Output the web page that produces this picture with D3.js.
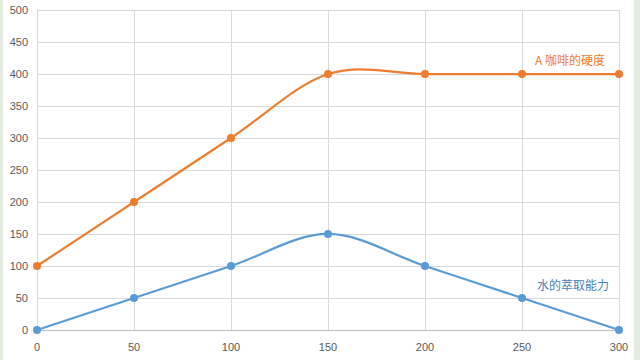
<!DOCTYPE html>
<html><head><meta charset="utf-8">
<script src="https://cdn.jsdelivr.net/npm/d3@7"></script>
<style>body{margin:0;background:#fff;}svg{display:block;}</style>
</head><body>
<svg id="c" width="640" height="360"></svg>
<script>
const xValues = [0, 50, 100, 150, 200, 250, 300];
const coffeeHardness = [100, 200, 300, 400, 400, 400, 400];
const waterExtraction = [0, 50, 100, 150, 100, 50, 0];
const yTicks = [0, 50, 100, 150, 200, 250, 300, 350, 400, 450, 500];
const seriesNames = ["A 咖啡的硬度", "水的萃取能力"];

const svg = d3.select("#c");
svg.append("rect").attr("x",0).attr("y",0).attr("width",640).attr("height",360).attr("fill","#fff");
svg.append("rect").attr("x",0).attr("y",0).attr("width",3).attr("height",360).attr("fill","#e3eddf");
svg.append("rect").attr("x",634).attr("y",0).attr("width",6).attr("height",360).attr("fill","#e3eddf");

const x = d3.scaleLinear().domain([0,300]).range([37,619]);
const y = d3.scaleLinear().domain([0,500]).range([330,10]);
const font = "'Liberation Sans', Arial, sans-serif";

// horizontal grid
svg.append("g").selectAll("line").data(yTicks).join("line")
  .attr("x1",x(0)).attr("x2",x(300)).attr("y1",d=>y(d)).attr("y2",d=>y(d))
  .attr("stroke",d=>d===0?"#bfbfbf":"#d9d9d9").attr("stroke-width",1).attr("shape-rendering","crispEdges");
// vertical grid
svg.append("g").selectAll("line").data(xValues).join("line")
  .attr("x1",d=>x(d)).attr("x2",d=>x(d)).attr("y1",y(500)).attr("y2",y(0))
  .attr("stroke","#d9d9d9").attr("stroke-width",1).attr("shape-rendering","crispEdges");

// y tick labels
svg.append("g").selectAll("text").data(yTicks).join("text")
  .attr("x",28).attr("y",d=>y(d)+4).attr("text-anchor","end")
  .attr("font-family",font).attr("font-size",11).attr("fill","#595959").text(d=>d);
// x tick labels
svg.append("g").selectAll("text").data(xValues).join("text")
  .attr("x",d=>x(d)).attr("y",351).attr("text-anchor","middle")
  .attr("font-family",font).attr("font-size",11).attr("fill","#595959").text(d=>d);

const line = d3.line().x(d=>x(d[0])).y(d=>y(d[1])).curve(d3.curveCardinal.tension(0));
const series = [
  {vals: coffeeHardness, color:"#ED7D31"},
  {vals: waterExtraction, color:"#5B9BD5"}
];
series.forEach(s=>{
  const pts = xValues.map((xv,i)=>[xv, s.vals[i]]);
  svg.append("path").attr("d", line(pts)).attr("fill","none").attr("stroke",s.color).attr("stroke-width",2.25);
  svg.append("g").selectAll("circle").data(pts).join("circle")
    .attr("cx",d=>x(d[0])).attr("cy",d=>y(d[1])).attr("r",4).attr("fill",s.color);
});

svg.append("text").attr("x",605).attr("y",65).attr("text-anchor","end")
  .attr("font-family","'Noto Sans CJK SC', sans-serif").attr("font-size",12).attr("fill","#ED7D31").text(seriesNames[0]);
svg.append("text").attr("x",609).attr("y",290).attr("text-anchor","end")
  .attr("font-family","'Noto Sans CJK SC', sans-serif").attr("font-size",12).attr("fill","#4a7fb5").text(seriesNames[1]);
</script>
</body></html>
